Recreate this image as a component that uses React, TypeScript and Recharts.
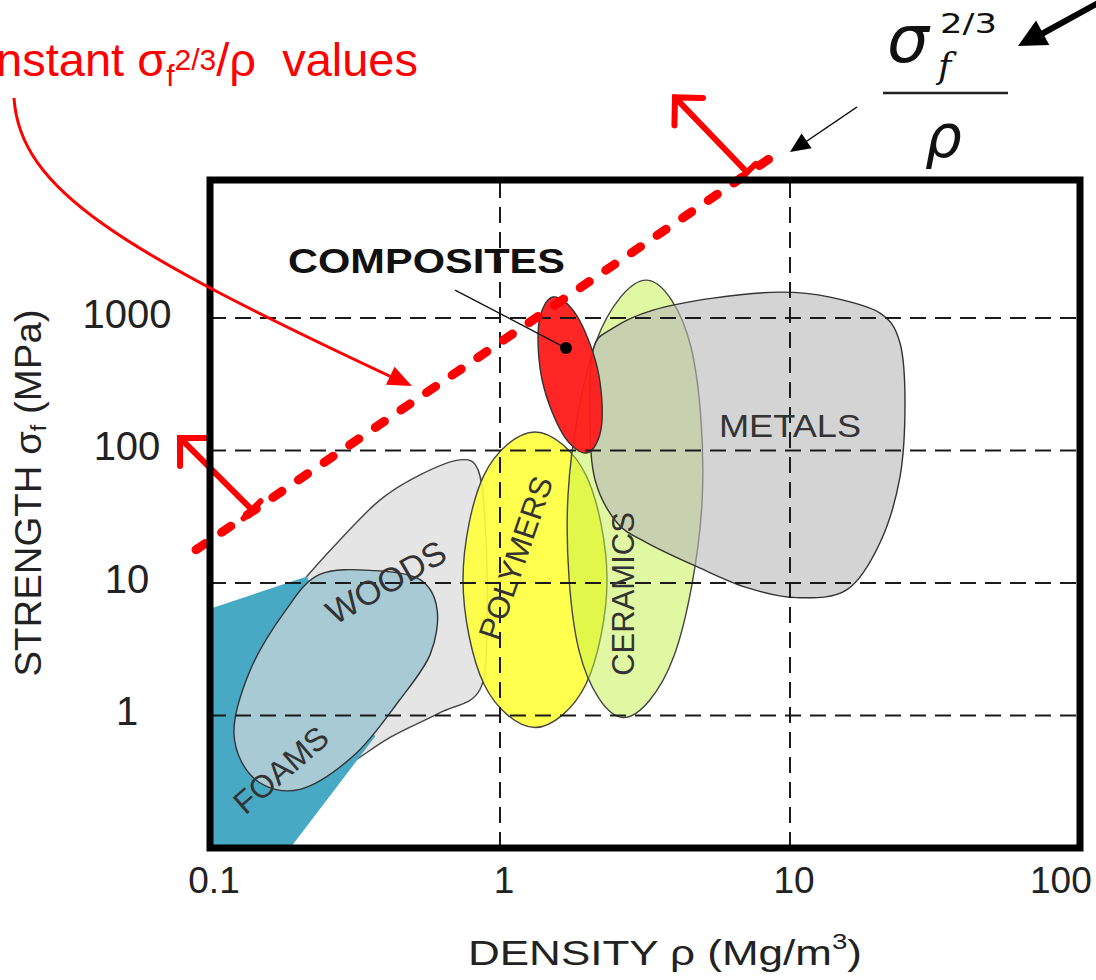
import React from "react";
import {
  ScatterChart,
  Scatter,
  XAxis,
  YAxis,
  ReferenceLine,
  ReferenceArea,
  ReferenceDot,
} from "recharts";

const FONT = "'Liberation Sans', Arial, sans-serif";

const RHO_DOMAIN = [0.1, 100];
const SIGMA_DOMAIN = [0.1, 11000];
const RHO_TICKS = [0.1, 1, 10, 100];
const RHO_TICK_LABELS = ["0.1", "1", "10", "100"];
const SIGMA_TICKS = [1, 10, 100, 1000];
const SIGMA_TICK_LABELS = ["1", "10", "100", "1000"];
const GRID_RHO = [1, 10];
const GRID_SIGMA = [1, 10, 100, 1000];

// material envelopes, density (Mg/m3) vs strength (MPa)
const woodsEnvRho = [0.204, 0.281, 0.386, 0.53, 0.728, 0.84, 0.888, 0.902, 0.853, 0.621, 0.418, 0.281, 0.189, 0.127, 0.127, 0.155];
const woodsEnvSigma = [9.71, 21.2, 42.4, 65.5, 85, 71.4, 30, 5.29, 1.57, 1.05, 0.683, 0.392, 0.277, 0.466, 1.57, 4.45];

const foamsRho = [0.1, 0.216, 0.371, 0.304, 0.189, 0.1];
const foamsSigma = [6.4, 11.2, 0.695, 0.392, 0.1, 0.1];

const woodsRho = [0.239, 0.371, 0.53, 0.607, 0.574, 0.452, 0.316, 0.204, 0.143, 0.121, 0.137, 0.181];
const woodsSigma = [11.6, 12.4, 10.6, 6.29, 2.88, 1.32, 0.508, 0.277, 0.33, 0.719, 2.15, 6.08];

const polymersRho = [1.32, 1.978, 2.339, 1.978, 1.32, 0.881, 0.7455, 0.881];
const polymersSigma = [138, 65.2, 10.6, 1.722, 0.812, 1.722, 10.6, 65.2];

const ceramicsRho = [3.213, 4.552, 4.973, 3.979, 2.656, 1.874, 1.716, 2.145];
const ceramicsSigma = [1931, 607, 40.5, 2.808, 0.966, 3.073, 46, 664];

const metalsRho = [2.093, 2.453, 3.37, 5.427, 9.237, 13.74, 20.43, 23.95, 24.92, 23.95, 20.43, 15.73, 10.57, 7.108, 4.779, 3.213, 2.532, 2.127, 2.043];
const metalsSigma = [573, 839, 1147, 1413, 1567, 1437, 1089, 647, 228, 63.2, 20.1, 8.9, 7.75, 9.22, 13.27, 20.1, 28.5, 60, 170];

const compositesRho = [1.52, 1.84, 2.17, 2.24, 2.0, 1.65, 1.4, 1.36];
const compositesSigma = [1440, 1040, 413, 154, 96, 132, 333, 895];

// constant sigma^(2/3)/rho guide line and its arrows
const guideRho = [0.0895, 8.53];
const guideSigma = [17.8, 16030];
const arrowLowRho = [0.1396, 0.0788];
const arrowLowSigma = [35.7, 124.4];
const arrowHighRho = [7.108, 4.012];
const arrowHighSigma = [12580, 46200];

// composites callout
const calloutRho = [0.7, 1.689];
const calloutSigma = [1622, 593];

const zip = (r: number[], s: number[]) => r.map((x, i) => ({ x, y: s[i] }));

type P = { x: number; y: number };

function splinePath(pts: P[]) {
  const n = pts.length;
  let d = `M${pts[0].x},${pts[0].y}`;
  for (let i = 0; i < n; i++) {
    const p0 = pts[(i - 1 + n) % n];
    const p1 = pts[i];
    const p2 = pts[(i + 1) % n];
    const p3 = pts[(i + 2) % n];
    const c1x = p1.x + (p2.x - p0.x) / 6;
    const c1y = p1.y + (p2.y - p0.y) / 6;
    const c2x = p2.x - (p3.x - p1.x) / 6;
    const c2y = p2.y - (p3.y - p1.y) / 6;
    d += ` C${c1x},${c1y} ${c2x},${c2y} ${p2.x},${p2.y}`;
  }
  return d + " Z";
}

function polyPath(pts: P[]) {
  return pts.map((p, i) => `${i ? "L" : "M"}${p.x},${p.y}`).join(" ") + " Z";
}

const region =
  (fill: string, opacity: number, stroke: string, smooth = true) =>
  (props: any) => {
    const pts: P[] = props.points ?? [];
    if (pts.length < 3) return <g />;
    return (
      <path
        d={smooth ? splinePath(pts) : polyPath(pts)}
        fill={fill}
        fillOpacity={opacity}
        stroke={stroke}
        strokeWidth={1.4}
        strokeLinejoin="round"
      />
    );
  };

const noDot = () => <g />;

const XTick = (props: any) => {
  const i = RHO_TICKS.indexOf(props.payload.value);
  const last = i === RHO_TICKS.length - 1;
  return (
    <text
      x={last ? props.x - 50 : props.x + 4}
      y={893}
      textAnchor={last ? "start" : "middle"}
      fontSize={37}
      fill="#222"
      fontFamily={FONT}
    >
      {RHO_TICK_LABELS[i]}
    </text>
  );
};

const YTick = (props: any) => {
  const i = SIGMA_TICKS.indexOf(props.payload.value);
  return (
    <text x={127} y={props.y + 10} textAnchor="middle" fontSize={40} fill="#222" fontFamily={FONT}>
      {SIGMA_TICK_LABELS[i]}
    </text>
  );
};

// arrow drawn from (x1,y1) base to (x2,y2) tip, open head and a bar at the base
const RedArrow = (props: any) => {
  const { x1, y1, x2, y2 } = props;
  const dx = x2 - x1;
  const dy = y2 - y1;
  const m = Math.hypot(dx, dy) || 1;
  const ux = dx / m;
  const uy = dy / m;
  const L = 28;
  const a1x = x2 - L * (ux * Math.SQRT1_2 - uy * Math.SQRT1_2);
  const a1y = y2 - L * (uy * Math.SQRT1_2 + ux * Math.SQRT1_2);
  const a2x = x2 - L * (ux * Math.SQRT1_2 + uy * Math.SQRT1_2);
  const a2y = y2 - L * (uy * Math.SQRT1_2 - ux * Math.SQRT1_2);
  const b = 12;
  return (
    <g stroke="#ff0000" strokeWidth={6} strokeLinecap="round" fill="none">
      <line x1={x1} y1={y1} x2={x2} y2={y2} />
      <polyline points={`${a1x},${a1y} ${x2},${y2} ${a2x},${a2y}`} />
      <line x1={x1 - uy * b} y1={y1 + ux * b} x2={x1 + uy * b} y2={y1 - ux * b} />
    </g>
  );
};

function head(x0: number, y0: number, x1: number, y1: number, L: number, W: number) {
  const dx = x1 - x0;
  const dy = y1 - y0;
  const m = Math.hypot(dx, dy);
  const ux = dx / m;
  const uy = dy / m;
  const bx = x1 - ux * L;
  const by = y1 - uy * L;
  return `M${x1},${y1} L${bx - uy * W},${by + ux * W} L${bx + uy * W},${by - ux * W} Z`;
}

function Overlay() {
  return (
    <svg
      width={1096}
      height={980}
      style={{ position: "absolute", left: 0, top: 0, pointerEvents: "none" }}
    >
      {/* red note, top left */}
      <text x={418} y={76} textAnchor="end" fontSize={47} fill="#ff0000" fontFamily={FONT} style={{ whiteSpace: "pre" }}>
        Constant σ
        <tspan fontSize={30} dy={10}>f</tspan>
        <tspan fontSize={30} dy={-16}>2/3</tspan>
        <tspan dy={6}>{"/ρ  values"}</tspan>
      </text>
      <path d="M14,98 C20,190 120,250 398,380" fill="none" stroke="#ff0000" strokeWidth={3} />
      <path d={head(380, 371, 412, 386, 24, 10)} fill="#ff0000" />

      {/* index formula, top right */}
      <text x={887} y={62} fontSize={66} fontStyle="italic" fill="#111" fontFamily="'DejaVu Sans', sans-serif">σ</text>
      <text x={940} y={33} fontSize={26} fill="#111" fontFamily="'DejaVu Sans', sans-serif" textLength={57} lengthAdjust="spacingAndGlyphs">2/3</text>
      <text x={938} y={78} fontSize={36} fontStyle="italic" fill="#111" fontFamily="'DejaVu Serif', serif">f</text>
      <line x1={883} y1={93} x2={1008} y2={93} stroke="#222" strokeWidth={2.5} />
      <text x={925} y={157} fontSize={58} fontStyle="italic" fill="#111" fontFamily="'DejaVu Sans', sans-serif">ρ</text>

      {/* arrows to the formula and the guide line */}
      <line x1={1100} y1={2} x2={1038} y2={36} stroke="#000" strokeWidth={6} />
      <path d={head(1100, 2, 1018, 46, 28, 14)} fill="#000" />
      <line x1={857} y1={107} x2={804} y2={143} stroke="#000" strokeWidth={1.5} />
      <path d={head(857, 107, 790, 152, 20, 9)} fill="#000" />

      {/* region labels */}
      <text x={288} y={273} fontSize={35} fontWeight="bold" fill="#111" fontFamily={FONT} textLength={277} lengthAdjust="spacingAndGlyphs">
        COMPOSITES
      </text>
      <text x={790} y={437} textAnchor="middle" fontSize={31} fill="#333" fontFamily={FONT} textLength={142} lengthAdjust="spacingAndGlyphs">
        METALS
      </text>
      <text transform="translate(623,594) rotate(-90)" textAnchor="middle" dominantBaseline="central" fontSize={31} fill="#333" fontFamily={FONT}>
        CERAMICS
      </text>
      <text transform="translate(516,558) rotate(-71)" textAnchor="middle" dominantBaseline="central" fontSize={31} fill="#333" fontFamily={FONT}>
        POLYMERS
      </text>
      <text transform="translate(386,582) rotate(-30)" textAnchor="middle" dominantBaseline="central" fontSize={34} fill="#333" fontFamily={FONT}>
        WOODS
      </text>
      <text transform="translate(281,770) rotate(-41)" textAnchor="middle" dominantBaseline="central" fontSize={32} fill="#333" fontFamily={FONT}>
        FOAMS
      </text>

      {/* axis titles */}
      <text transform="translate(41,493) rotate(-90)" textAnchor="middle" fontSize={36} fill="#222" fontFamily={FONT} textLength={367} lengthAdjust="spacingAndGlyphs">
        STRENGTH σ
        <tspan fontSize={22} dy={5}>f</tspan>
        <tspan dy={-5}> (MPa)</tspan>
      </text>
      <text x={468} y={965} fontSize={35} fill="#222" fontFamily={FONT} textLength={394} lengthAdjust="spacingAndGlyphs">
        DENSITY ρ (Mg/m
        <tspan fontSize={22} dy={-16}>3</tspan>
        <tspan dy={16}>)</tspan>
      </text>
    </svg>
  );
}

export default function App() {
  return (
    <div style={{ position: "absolute", left: 0, top: 0, width: 1096, height: 980, overflow: "hidden", background: "#fff" }}>
      <ScatterChart width={1096} height={980} margin={{ top: 180, right: 16, bottom: 0, left: 0 }}>
        <XAxis
          type="number"
          dataKey="x"
          scale="log"
          domain={RHO_DOMAIN}
          allowDataOverflow
          ticks={RHO_TICKS}
          interval={0}
          tick={XTick}
          axisLine={false}
          tickLine={false}
          height={132}
        />
        <YAxis
          type="number"
          dataKey="y"
          scale="log"
          domain={SIGMA_DOMAIN}
          allowDataOverflow
          ticks={SIGMA_TICKS}
          interval={0}
          tick={YTick}
          axisLine={false}
          tickLine={false}
          width={210}
        />
        <Scatter data={zip(woodsEnvRho, woodsEnvSigma)} line={region("#e5e5e5", 1, "#444")} lineType="joint" shape={noDot} isAnimationActive={false} />
        <Scatter data={zip(foamsRho, foamsSigma)} line={region("#47a9c4", 1, "none", false)} lineType="joint" shape={noDot} isAnimationActive={false} />
        <Scatter data={zip(woodsRho, woodsSigma)} line={region("#a7cad4", 1, "#333")} lineType="joint" shape={noDot} isAnimationActive={false} />
        <Scatter data={zip(polymersRho, polymersSigma)} line={region("#ffff3a", 0.9, "#444")} lineType="joint" shape={noDot} isAnimationActive={false} />
        <Scatter data={zip(ceramicsRho, ceramicsSigma)} line={region("#c4f248", 0.5, "#444")} lineType="joint" shape={noDot} isAnimationActive={false} />
        <Scatter data={zip(metalsRho, metalsSigma)} line={region("#b8b8b8", 0.6, "#333")} lineType="joint" shape={noDot} isAnimationActive={false} />
        <Scatter data={zip(compositesRho, compositesSigma)} line={region("#ff1a1a", 0.95, "#333")} lineType="joint" shape={noDot} isAnimationActive={false} />

        {GRID_RHO.map((v) => (
          <ReferenceLine key={`gx${v}`} x={v} stroke="#1a1a1a" strokeWidth={2} strokeDasharray="16 9" ifOverflow="hidden" zIndex={700} />
        ))}
        {GRID_SIGMA.map((v) => (
          <ReferenceLine key={`gy${v}`} y={v} stroke="#1a1a1a" strokeWidth={2} strokeDasharray="16 9" ifOverflow="hidden" zIndex={700} />
        ))}

        <ReferenceLine
          segment={zip(calloutRho, calloutSigma)}
          stroke="#111"
          strokeWidth={1.4}
          ifOverflow="visible"
          zIndex={720}
        />
        <ReferenceDot x={calloutRho[1]} y={calloutSigma[1]} r={6} fill="#000" stroke="none" ifOverflow="visible" zIndex={720} />

        <ReferenceLine
          segment={zip(guideRho, guideSigma)}
          stroke="#ff0000"
          strokeWidth={9}
          strokeDasharray="11 20"
          strokeLinecap="round"
          ifOverflow="visible"
          zIndex={730}
        />
        <ReferenceLine segment={zip(arrowLowRho, arrowLowSigma)} shape={RedArrow} ifOverflow="visible" zIndex={730} />
        <ReferenceLine segment={zip(arrowHighRho, arrowHighSigma)} shape={RedArrow} ifOverflow="visible" zIndex={730} />

        <ReferenceArea
          x1={RHO_DOMAIN[0]}
          x2={RHO_DOMAIN[1]}
          y1={SIGMA_DOMAIN[0]}
          y2={SIGMA_DOMAIN[1]}
          fill="none"
          stroke="#000"
          strokeWidth={7}
          ifOverflow="visible"
          zIndex={740}
        />
      </ScatterChart>
      <Overlay />
    </div>
  );
}
